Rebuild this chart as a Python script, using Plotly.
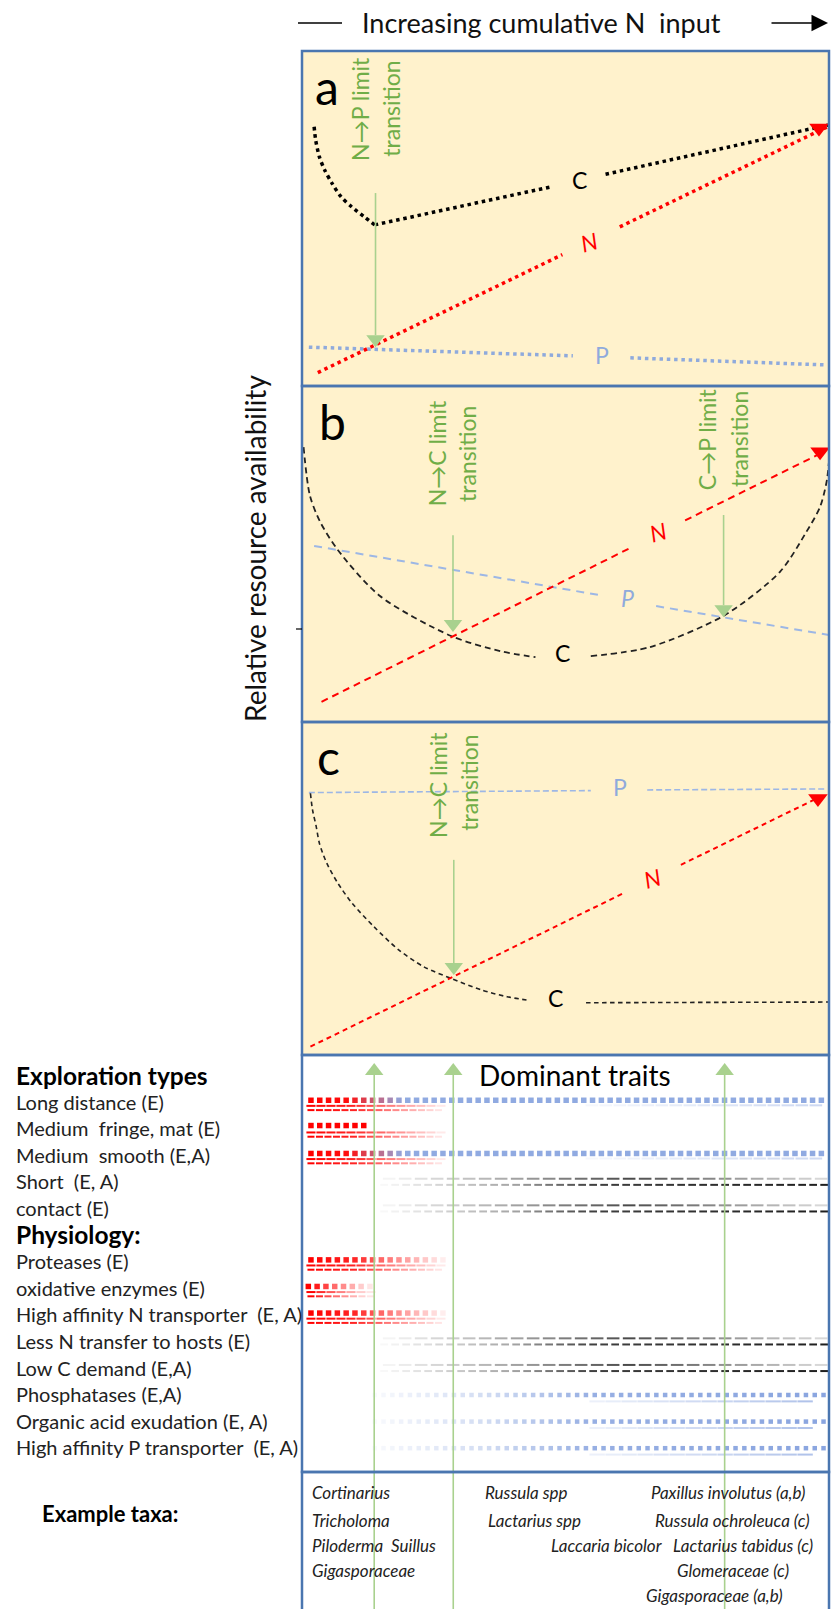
import numpy as np
import plotly.graph_objects as go

W, H = 838, 1609
FONT = "Lato"

# ======================= DATA =======================
# x: cumulative N input (0-100 across a panel); y: relative resource availability (0-100)
# ---- panel a ----
a_C_curve_x = [2.3, 2.6, 3.3, 4.3, 5.7, 7.4, 9.4, 11.8, 13.8]
a_C_curve_y = [77.4, 73.4, 68.4, 64.5, 60.5, 56.5, 53.5, 50.5, 48.1]
a_C_line_x = [13.8, 47.1, None, 57.6, 99.8]
a_C_line_y = [48.1, 59.4, None, 63.2, 77.9]
a_N_x = [3.0, 49.4, None, 60.3, 99.6]
a_N_y = [4.0, 39.2, None, 47.5, 77.3]
a_P_x = [1.3, 51.4, None, 62.3, 99.3]
a_P_y = [11.6, 9.0, None, 8.4, 6.3]
a_N_head = (98.1, 77.0)
a_arrows_x, a_arrows_from, a_arrows_tip = [13.95], [57.6], [11.6]

# ---- panel b ----
b_C_x = [0.3, 1.5, 3.4, 6.8, 14.8, 28.3, 37.6, 44.3, None, 54.8, 66.0, 80.2, 90.7, 95.6, 98.3, 99.6, 100.2]
b_C_y = [81.8, 67.4, 59.7, 51.2, 37.5, 25.6, 21.1, 19.3, None, 19.6, 22.3, 31.8, 44.7, 56.3, 64.0, 72.0, 81.5]
b_N_x = [3.7, 62.8, None, 72.7, 99.0]
b_N_y = [6.0, 52.2, None, 60.0, 80.4]
b_P_x = [2.3, 56.3, None, 67.2, 100.0]
b_P_y = [52.4, 37.8, None, 34.5, 25.9]
b_N_head = (98.3, 80.4)
b_arrows_x, b_arrows_from, b_arrows_tip = [28.65, 80.0], [55.6, 61.6], [26.8, 31.2]

# ---- panel c ----
c_C_x = [1.6, 2.0, 2.7, 3.3, 4.7, 6.8, 9.5, 13.6, 18.4, 23.1, 28.3, 34.1, 38.9, 42.6, None, 53.9, 100.0]
c_C_y = [78.6, 73.6, 68.6, 63.6, 57.6, 51.6, 45.6, 38.6, 31.5, 26.5, 23.0, 19.5, 17.5, 16.5, None, 15.7, 15.9]
c_N_x = [1.6, 61.4, None, 71.9, 97.6]
c_N_y = [2.5, 48.9, None, 57.1, 77.0]
c_P_x = [1.3, 54.8, None, 65.5, 99.6]
c_P_y = [78.8, 79.4, None, 79.6, 79.9]
c_N_head = (97.9, 77.0)
c_arrows_x, c_arrows_from, c_arrows_tip = [28.8], [58.6], [24.0]

# ---- dominant traits ----
heading_labels = ["Exploration types", "Physiology:"]
heading_rows = [0, 6]
trait_labels = ["Long distance (E)", "Medium  fringe, mat (E)", "Medium  smooth (E,A)",
                "Short  (E, A)", "contact (E)",
                "Proteases (E)", "oxidative enzymes (E)", "High affinity N transporter  (E, A)",
                "Less N transfer to hosts (E)", "Low C demand (E,A)", "Phosphatases (E,A)",
                "Organic acid exudation (E, A)", "High affinity P transporter  (E, A)"]
trait_rows = [1, 2, 3, 4, 5, 7, 8, 9, 10, 11, 12, 13, 14]
trait_kind = ["NP", "Nfringe", "NP", "C", "C", "N", "Nshort", "N", "C", "C", "P", "P", "P"]
transition_x = [13.7, 28.7, 80.2]

# ---- example taxa ----
taxa_text = ["Cortinarius", "Tricholoma", "Piloderma  Suillus", "Gigasporaceae",
             "Russula spp", "Lactarius spp",
             "Paxillus involutus (a,b)", "Russula ochroleuca (c)", "Laccaria bicolor",
             "Lactarius tabidus (c)", "Glomeraceae (c)", "Gigasporaceae (a,b)"]
taxa_x = [1.5, 1.5, 1.5, 1.5, 34.3, 34.9, 95.8, 96.8, 68.9, 97.3, 92.8, 91.7]
taxa_row = [15.68, 16.73, 17.67, 18.61, 15.68, 16.73, 15.68, 16.73, 17.67, 17.67, 18.61, 19.55]
taxa_anchor = ["left"] * 6 + ["right"] * 6

# ======================= STYLE / LAYOUT =======================
PX0, PX1 = 302, 829
PXU = (PX1 - PX0) / 100.0
PANELS = [("a", 51, 386), ("b", 386, 722), ("c", 722, 1055)]
TRAITS_TOP, TRAITS_BOT, TAXA_BOT = 1055, 1472, 1612
ROW0, ROW_H = 1075, 26.6

RED = (255, 0, 0)
BLUE = (125, 155, 220)
GREY = (30, 30, 30)
GREEN_TXT = "#70AD47"
GREEN_ARR = "#A9D18E"
BORDER = "#4A76B0"
FILL = "#FFF2CC"


def xd(px):
    return px / W


def yd(py):
    return 1 - py / H


fig = go.Figure()
layout = dict(width=W, height=H, margin=dict(l=0, r=0, t=0, b=0),
              paper_bgcolor="white", plot_bgcolor="rgba(0,0,0,0)",
              showlegend=False, hovermode=False,
              font=dict(family=FONT, color="black"))
axc = dict(visible=False, fixedrange=True, showgrid=False, zeroline=False)
for i, (nm, top, bot) in enumerate(PANELS):
    k = "" if i == 0 else str(i + 1)
    layout["xaxis" + k] = dict(domain=[xd(PX0), xd(PX1)], range=[0, 100], anchor="y" + k, **axc)
    layout["yaxis" + k] = dict(domain=[yd(bot), yd(top)], range=[0, 100], anchor="x" + k, **axc)
layout["xaxis4"] = dict(domain=[xd(PX0), xd(PX1)], range=[0, 100], anchor="y4", **axc)
layout["yaxis4"] = dict(domain=[0, yd(TRAITS_TOP)],
                        range=[(H - ROW0) / ROW_H, (TRAITS_TOP - ROW0) / ROW_H], anchor="x4", **axc)

shapes = []
annotations = []

# panel boxes
for nm, top, bot in PANELS:
    shapes.append(dict(type="rect", xref="paper", yref="paper", x0=xd(PX0), x1=xd(PX1),
                       y0=yd(bot), y1=yd(top), fillcolor=FILL, line=dict(width=0), layer="below"))
boxes = [(51, 386), (386, 722), (722, 1055), (TRAITS_TOP, TRAITS_BOT), (TRAITS_BOT, TAXA_BOT)]
for top, bot in boxes:
    shapes.append(dict(type="rect", xref="paper", yref="paper", x0=xd(PX0), x1=xd(PX1),
                       y0=yd(bot), y1=yd(top), fillcolor="rgba(0,0,0,0)",
                       line=dict(color=BORDER, width=2.5), layer="above"))

# small tick left of panel b
shapes.append(dict(type="line", xref="paper", yref="paper", x0=xd(296), x1=xd(302),
                   y0=yd(629), y1=yd(629), line=dict(color="black", width=1.2)))
# top N-input arrow
shapes.append(dict(type="line", xref="paper", yref="paper", x0=xd(298), x1=xd(342),
                   y0=yd(23), y1=yd(23), line=dict(color="black", width=1.5)))
annotations.append(dict(xref="paper", yref="paper", x=xd(828), y=yd(23), ax=-58, ay=0,
                        text="", showarrow=True, arrowhead=2, arrowsize=2.2, arrowwidth=1.5,
                        arrowcolor="black"))
annotations.append(dict(xref="paper", yref="paper", x=xd(541), y=yd(23), showarrow=False,
                        xanchor="center", yanchor="middle",
                        text="Increasing cumulative N  input", font=dict(size=27, color="#111")))
annotations.append(dict(xref="paper", yref="paper", x=xd(255), y=yd(549), showarrow=False,
                        xanchor="center", yanchor="middle",
                        textangle=-90, text="Relative resource availability",
                        font=dict(size=28, color="#111")))


def line(ax, xs, ys, color, width, dash, shape="linear"):
    fig.add_trace(go.Scatter(x=xs, y=ys, mode="lines", xaxis="x" + ax, yaxis="y" + ax,
                             line=dict(color=color, width=width, dash=dash, shape=shape,
                                       smoothing=0.8), hoverinfo="skip"))


def head(ax, pt, color):
    fig.add_trace(go.Scatter(x=[pt[0]], y=[pt[1]], mode="markers", xaxis="x" + ax, yaxis="y" + ax,
                             marker=dict(symbol="triangle-down", size=17, color=color,
                                         line=dict(width=0)), hoverinfo="skip"))


def green_arrows(ax, xs, ys0, ytips, pxu_y):
    size = 16
    for x, y0, yt in zip(xs, ys0, ytips):
        base = yt + (0.75 * size) / pxu_y
        fig.add_trace(go.Scatter(x=[x, x], y=[y0, base], mode="lines", xaxis="x" + ax,
                                 yaxis="y" + ax, line=dict(color=GREEN_ARR, width=1.6),
                                 hoverinfo="skip"))
        fig.add_trace(go.Scatter(x=[x], y=[yt + (size / 2) / pxu_y], mode="markers",
                                 xaxis="x" + ax, yaxis="y" + ax,
                                 marker=dict(symbol="triangle-down", size=size, color=GREEN_ARR,
                                             line=dict(width=0)), hoverinfo="skip"))


def txt(ax, x, y, s, size, color, angle=0, xanchor="center"):
    annotations.append(dict(xref="x" + ax, yref="y" + ax, x=x, y=y, text=s, showarrow=False,
                            textangle=angle, xanchor=xanchor, yanchor="middle",
                            font=dict(size=size, color=color, family=FONT)))


pxu_y = {k: (bot - top) / 100.0 for k, top, bot in PANELS}
GT = 23  # green transition text size

# ---- panel a ----
DOT = "3.5px,3.8px"
line("", a_C_curve_x, a_C_curve_y, "black", 3.5, DOT, "spline")
line("", a_C_line_x, a_C_line_y, "black", 3.5, DOT)
line("", a_P_x, a_P_y, "#8FAADC", 3.5, DOT)
line("", a_N_x, a_N_y, "red", 3.5, DOT)
head("", a_N_head, "red")
green_arrows("", a_arrows_x, a_arrows_from, a_arrows_tip, pxu_y["a"])
txt("", 4.7, 89.3, "a", 48, "black")
txt("", 52.6, 61.5, "C", 23, "black")
txt("", 54.5, 43.0, "<i>N</i>", 23, "red", -15)
txt("", 56.9, 9.3, "P", 23, "#8FAADC")
txt("", 11.0, 82.7, "N→P limit", GT, GREEN_TXT, -90)
txt("", 16.9, 82.8, "transition", GT, GREEN_TXT, -90)

# ---- panel b ----
line("2", b_C_x, b_C_y, "#222", 1.8, "6px,4px", "spline")
line("2", b_P_x, b_P_y, "#9DB7E5", 2, "8px,6px")
line("2", b_N_x, b_N_y, "red", 2, "7px,5px")
head("2", b_N_head, "red")
green_arrows("2", b_arrows_x, b_arrows_from, b_arrows_tip, pxu_y["b"])
txt("2", 5.7, 89.3, "b", 48, "black")
txt("2", 49.4, 20.5, "C", 23, "black")
txt("2", 67.6, 56.5, "<i>N</i>", 23, "red", -15)
txt("2", 61.7, 36.9, "<i>P</i>", 23, "#8FAADC")
txt("2", 25.5, 80.1, "N→C limit", GT, GREEN_TXT, -90)
txt("2", 31.2, 79.9, "transition", GT, GREEN_TXT, -90)
txt("2", 77.0, 84.1, "C→P limit", GT, GREEN_TXT, -90)
txt("2", 82.9, 84.2, "transition", GT, GREEN_TXT, -90)

# ---- panel c ----
line("3", c_P_x, c_P_y, "#9DB7E5", 1.6, "6px,3px")
line("3", c_C_x, c_C_y, "#222", 1.6, "4.5px,3.5px", "spline")
line("3", c_N_x, c_N_y, "red", 2, "5px,4px")
head("3", c_N_head, "red")
green_arrows("3", c_arrows_x, c_arrows_from, c_arrows_tip, pxu_y["c"])
txt("3", 5.05, 89.6, "c", 48, "black")
txt("3", 48.1, 17.1, "C", 23, "black")
txt("3", 66.5, 53.2, "<i>N</i>", 23, "red", -15)
txt("3", 60.3, 80.6, "P", 23, "#8FAADC")
txt("3", 25.8, 81.1, "N→C limit", GT, GREEN_TXT, -90)
txt("3", 31.7, 81.8, "transition", GT, GREEN_TXT, -90)


# ---- traits panel ----
def rgba(c, a):
    return "rgba(%d,%d,%d,%.3f)" % (c[0], c[1], c[2], max(0.0, min(1.0, a)))


def band(row, dy, x0, x1, step_px, prof_x, prof_a, colfn, symbol, size, lw=2.0):
    xs = np.arange(x0, x1 + 1e-9, step_px / PXU)
    al = np.interp(xs, prof_x, prof_a)
    cols = [colfn(x, a) for x, a in zip(xs, al)]
    if symbol == "line-ew":
        mk = dict(symbol="line-ew", size=size, color=cols, line=dict(width=lw, color=cols))
    else:
        mk = dict(symbol=symbol, size=size, color=cols, line=dict(width=0))
    fig.add_trace(go.Scatter(x=xs, y=[row + dy] * len(xs), mode="markers", xaxis="x4",
                             yaxis="y4", marker=mk, hoverinfo="skip"))


def solid(c):
    return lambda x, a: rgba(c, a)


def red_blue(x, a):
    t = float(np.clip((x - 9.0) / 10.0, 0, 1))
    c = tuple(RED[i] * (1 - t) + BLUE[i] * t for i in range(3))
    return rgba(c, a)


RED_FADE = ([1.7, 10, 18, 27], [1.0, 0.85, 0.45, 0.06])
RED_FADE_SHORT = ([1.7, 6, 12.5], [1.0, 0.6, 0.1])

for row, kind in zip(trait_rows, trait_kind):
    if kind in ("NP", "Nfringe", "N", "Nshort"):
        if kind == "NP":
            band(row, -0.05, 1.7, 99.5, 8.8, [1.7, 20, 100], [1.0, 0.85, 0.85], red_blue, "square", 5.5)
            band(row, 0.14, 55, 100, 14, [55, 100], [0.08, 0.4], solid(BLUE), "line-ew", 9, 2)
        elif kind == "Nfringe":
            band(row, -0.1, 1.7, 12.6, 8.8, [0, 100], [1, 1], solid(RED), "square", 5.5)
        elif kind == "N":
            band(row, -0.05, 1.7, 27, 8.8, *RED_FADE, solid(RED), "square", 5.5)
        else:
            band(row, -0.05, 1.2, 13.5, 8.8, *RED_FADE_SHORT, solid(RED), "square", 5.5)
        xend = 13.5 if kind == "Nshort" else 27
        pf = RED_FADE_SHORT if kind == "Nshort" else RED_FADE
        band(row, 0.16, 1.7, xend, 10, *pf, solid(RED), "line-ew", 6.5, 2)
        band(row, 0.32, 1.7, xend, 8.5, *pf, solid(RED), "line-ew", 5, 2)
    elif kind == "C":
        band(row, -0.1, 13.5, 100, 16, [13.5, 40, 62, 100], [0.0, 0.4, 0.8, 0.15],
             solid(GREY), "line-ew", 9, 2)
        band(row, 0.13, 13.5, 100, 11, [13.5, 40, 55, 100], [0.0, 0.4, 0.85, 1.0],
             solid(GREY), "line-ew", 5.5, 2)
    elif kind == "P":
        band(row, 0.03, 13.8, 99, 8.8, [13.5, 35, 55, 100], [0.05, 0.35, 0.8, 0.9],
             solid(BLUE), "square", 4.5)
        band(row, 0.27, 56, 98, 16, [56, 100], [0.15, 0.65], solid(BLUE), "line-ew", 11, 2)

# green vertical arrows through traits and taxa
ybot = (H - ROW0) / ROW_H
for tx in transition_x:
    tip = (1063 - ROW0) / ROW_H
    fig.add_trace(go.Scatter(x=[tx, tx], y=[ybot, tip + 12 / ROW_H], mode="lines", xaxis="x4",
                             yaxis="y4", line=dict(color=GREEN_ARR, width=1.6), hoverinfo="skip"))
    fig.add_trace(go.Scatter(x=[tx], y=[tip + 8 / ROW_H], mode="markers", xaxis="x4", yaxis="y4",
                             marker=dict(symbol="triangle-up", size=16, color=GREEN_ARR,
                                         line=dict(width=0)), hoverinfo="skip"))

annotations.append(dict(xref="paper", yref="y4", x=xd(575), y=0.0, text="Dominant traits",
                        xanchor="center", yanchor="middle",
                        showarrow=False, font=dict(size=28, color="black")))

for lab, r in zip(heading_labels, heading_rows):
    annotations.append(dict(xref="paper", yref="y4", x=xd(14), y=r, xanchor="left",
                            yanchor="middle", text="<b>%s</b>" % lab, showarrow=False,
                            font=dict(size=24.5, color="black")))
for lab, r in zip(trait_labels, trait_rows):
    annotations.append(dict(xref="paper", yref="y4", x=xd(14), y=r, xanchor="left",
                            yanchor="middle", text=lab, showarrow=False,
                            font=dict(size=20, color="#222")))

annotations.append(dict(xref="paper", yref="y4", x=xd(40), y=(1513 - ROW0) / ROW_H,
                        xanchor="left", yanchor="middle", text="<b>Example taxa:</b>",
                        showarrow=False, font=dict(size=22, color="black")))
for t, x, r, anc in zip(taxa_text, taxa_x, taxa_row, taxa_anchor):
    annotations.append(dict(xref="x4", yref="y4", x=x, y=r, xanchor=anc, yanchor="middle",
                            text="<i>%s</i>" % t,
                            showarrow=False, font=dict(size=17, color="#222")))

layout["shapes"] = shapes
layout["annotations"] = annotations
fig.update_layout(**layout)
fig.write_html("out.html", config={"displayModeBar": False},
               post_script="document.body.style.margin='0px';document.body.style.overflow='hidden';")
